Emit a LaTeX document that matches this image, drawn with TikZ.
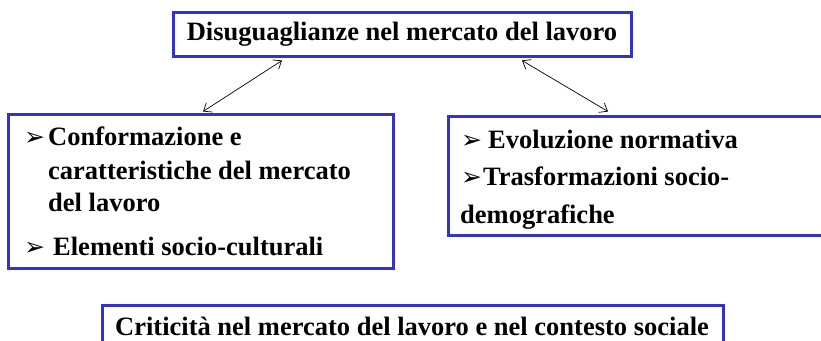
\documentclass[tikz,border=0pt]{standalone}
\usepackage{fontspec}
\setmainfont{Liberation Serif}
\newfontfamily\bulletfont{DejaVu Sans}
\usetikzlibrary{arrows.meta}
\definecolor{boxblue}{RGB}{51,51,204}
\tikzset{
  box/.style={draw=boxblue, line width=3pt, inner sep=0pt, fill=none},
  txt/.style={anchor=base west, inner sep=0pt, font=\fontsize{26.5}{32}\selectfont\bfseries},
  bul/.style={anchor=base west, inner sep=0pt, font=\bulletfont\fontsize{25}{28}\selectfont},
  link/.style={draw=black, line width=0.7pt, {Straight Barb[length=7pt,width=11pt]}-{Straight Barb[length=7pt,width=11pt]}}
}
\begin{document}
\begin{tikzpicture}[x=1pt,y=-1pt]
\useasboundingbox (0,0) rectangle (821,340);
% boxes
\node[box, minimum width=458pt, minimum height=44pt, font=\fontsize{26.5}{32}\selectfont\bfseries] (top) at (402,34) {Disuguaglianze nel mercato del lavoro};
\node[box, minimum width=385pt, minimum height=154pt] (lb) at (200.5,191) {};
\node[box, minimum width=384pt, minimum height=119pt] (rb) at (640,175.5) {};
\node[box, minimum width=621pt, minimum height=56pt] (bb) at (412.5,333) {};
% left box text
\node[bul] (lb1) at (24,145) {➢};
\node[txt] (lt1) at (48,145) {Conformazione e};
\node[txt] (lt2) at (48,179) {caratteristiche del mercato};
\node[txt] (lt3) at (48,211) {del lavoro};
\node[bul] (lb2) at (24,255) {➢};
\node[txt] (lt4) at (53,255) {Elementi socio-culturali};
% right box text
\node[bul] (rb1) at (461,148) {➢};
\node[txt] (rt1) at (488,148) {Evoluzione normativa};
\node[bul] (rb2) at (461,185) {➢};
\node[txt] (rt2) at (483,185) {Trasformazioni socio-};
\node[txt] (rt3) at (460,223) {demografiche};
% bottom text
\node[txt] (bt) at (115,335) {Criticità nel mercato del lavoro e nel contesto sociale};
% connectors
\draw[link] ([xshift=-120pt,yshift=-3pt]top.south) -- ([xshift=2.5pt,yshift=1pt]lb.north);
\draw[link] ([xshift=120pt,yshift=-3pt]top.south) -- ([xshift=-32pt,yshift=3pt]rb.north);
\end{tikzpicture}
\end{document}
